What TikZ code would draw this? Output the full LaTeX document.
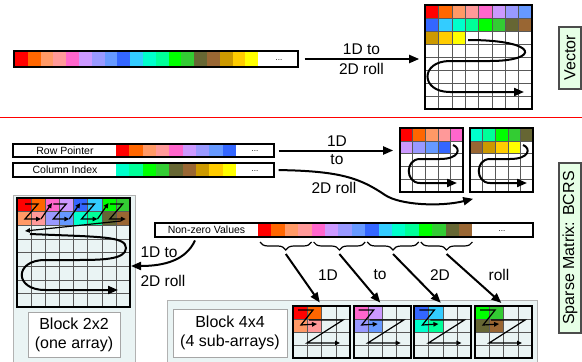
\documentclass[tikz,border=0pt]{standalone}
\usepackage{fontspec}
\setmainfont{Liberation Sans}
\usetikzlibrary{arrows.meta, decorations.pathreplacing, positioning}

\definecolor{c1}{HTML}{FF0000}
\definecolor{c2}{HTML}{FF6600}
\definecolor{c3}{HTML}{FF9966}
\definecolor{c4}{HTML}{FF9999}
\definecolor{c5}{HTML}{FF66CC}
\definecolor{c6}{HTML}{CC99FF}
\definecolor{c7}{HTML}{9999FF}
\definecolor{c8}{HTML}{6699FF}
\definecolor{c9}{HTML}{3366FF}
\definecolor{c10}{HTML}{33CCFF}
\definecolor{c11}{HTML}{00FFCC}
\definecolor{c12}{HTML}{00FF99}
\definecolor{c13}{HTML}{00FF00}
\definecolor{c14}{HTML}{33CC33}
\definecolor{c15}{HTML}{666633}
\definecolor{c16}{HTML}{996633}
\definecolor{c17}{HTML}{CC9900}
\definecolor{c18}{HTML}{FFCC00}
\definecolor{c19}{HTML}{FFFF00}
\definecolor{panelfill}{HTML}{EAF4F4}
\definecolor{tagfill}{HTML}{E6FFE6}

\newcommand\captionfont{\fontsize{16}{19}\selectfont}
\newcommand\rollfont{\fontsize{15.5}{18}\selectfont}
\newcommand\stripfont{\fontsize{10.5}{12}\selectfont}
\newcommand\dotsfont{\fontsize{8}{9}\selectfont}

% inner lines of a cell grid: x0, y0, cols, rows, cell width, cell height
\newcommand\gridlines[6]{%
  \foreach \gi in {1,...,#3}
    \draw[gridline] ({#1+#5*\gi},#2) -- ++(0,{#4*#6});
  \foreach \gi in {1,...,#4}
    \draw[gridline] (#1,{#2+#6*\gi}) -- ++({#3*#5},0);
}

\begin{document}
\begin{tikzpicture}[x=1pt, y=-1pt,%
  arr/.style={line width=2pt, -{Triangle[length=10pt, width=8pt]}},
  zarr/.style={line width=1.2pt, -{Triangle[length=5pt, width=4.5pt]}},
  gridline/.style={draw=gray!70!black, line width=0.5pt},
  frame/.style={draw, line width=1.6pt, inner sep=0pt},
  strip/.style={draw, line width=1.4pt, inner sep=0pt},
  tag/.style={draw=gray!60!black, line width=1.2pt, fill=tagfill, inner sep=0pt,
    minimum height=22pt, font=\captionfont},
  panel/.style={draw=gray!60, fill=panelfill, line width=0.8pt},
  caption/.style={draw=gray!70, fill=white, line width=0.8pt, align=center,
    inner sep=0pt, font=\captionfont},
  roll/.style={font=\rollfont},
  brace/.style={decorate, decoration={brace, mirror, amplitude=8pt}, line width=1.2pt}]
  \useasboundingbox (0,0) rectangle (582,362);

  % vector
  \foreach \i in {1,...,19}
    \fill[c\i] ({15+12.8*(\i-1)},51) rectangle ++(12.8,16);
  \node[strip, minimum width=284pt, minimum height=16pt] (vec) at (156,59) {};
  \node[font=\dotsfont] (vecdots) at (279,60) {...};

  \foreach \i in {1,...,19} {
    \pgfmathtruncatemacro\col{mod(\i-1,8)}
    \pgfmathtruncatemacro\row{(\i-1)/8}
    \fill[c\i] ({425+13.375*\col},{5+13*\row}) rectangle ++(13.375,13);
  }
  \gridlines{425}{5}{8}{8}{13.375}{13}
  \node[frame, minimum width=107pt, minimum height=104pt] (vgrid) at (478.5,57) {};
  \draw[arr] (468,40) .. controls (540,40) and (540,61) .. (490,61) -- (450,61)
    .. controls (420,61) and (420,92) .. (450,92) -- (524,92);
  \draw[arr, shorten <=6pt, shorten >=5pt] (vec.east) -- (vec.east -| vgrid.west)
    node[midway, above, roll] (rolla) {1D to}
    node[midway, below, roll] (rollb) {2D roll};

  \node[tag, rotate=90, minimum width=62pt] (vtag) at (570,58) {Vector};
  \draw[red, line width=0.8pt] (0,117) -- (582,117);

  % BCRS: row pointer and column index
  \foreach \i in {1,...,9}
    \fill[c\i] ({116+13.33*(\i-1)},144) rectangle ++(13.33,13);
  \node[strip, minimum width=261pt, minimum height=13pt] (rp) at (143.5,150.5) {};
  \node[font=\stripfont] (rplbl) at (65,150.5) {Row Pointer};
  \node[font=\dotsfont] (rpdots) at (255,151) {...};
  \foreach \i in {11,...,19}
    \fill[c\i] ({116+13.33*(\i-11)},163) rectangle ++(13.33,14);
  \node[strip, minimum width=261pt, minimum height=14pt] (ci) at (143.5,170) {};
  \node[font=\stripfont] (cilbl) at (65,170) {Column Index};
  \node[font=\dotsfont] (cidots) at (255,171) {...};

  \foreach \gx/\f/\nm in {400/1/rpgrid, 470/11/cigrid} {
    \foreach \i in {0,...,8} {
      \pgfmathtruncatemacro\n{\f+\i}
      \pgfmathtruncatemacro\col{mod(\i,5)}
      \pgfmathtruncatemacro\row{\i/5}
      \fill[c\n] ({\gx+12.6*\col},{128+12.8*\row}) rectangle ++(12.6,12.8);
    }
    \gridlines{\gx}{128}{5}{5}{12.6}{12.8}
    \node[frame, minimum width=63pt, minimum height=64pt] (\nm) at ({\gx+31.5},160) {};
    \draw[arr] ({\gx+53},145) .. controls ({\gx+61},148) and ({\gx+60},159) .. ({\gx+40},159)
      -- ({\gx+20},159) .. controls ({\gx+5},159) and ({\gx+5},183) .. ({\gx+20},183)
      -- ({\gx+57},183);
  }
  \draw[arr, shorten <=4pt, shorten >=6pt] (rp.east) -- (rp.east -| rpgrid.west)
    node[midway, above, roll] (rollc) {1D}
    node[midway, below, roll] (rolld) {to};
  \node[roll] (rolle) at (334,188) {2D roll};
  \draw[arr, shorten <=4pt] (ci.east) .. controls (340,171) and (360,178) .. (385,195)
    .. controls (400,205) and (440,207) .. ([xshift=4pt, yshift=-6pt]cigrid.south west);

  \node[tag, rotate=90, minimum width=170pt] (stag) at (570,248) {Sparse Matrix: BCRS};

  % block 2x2, one array
  \draw[panel] (13,195) rectangle (135,372);
  \foreach \k in {0,...,3} {
    \foreach \j/\dx/\dy in {1/0/0, 2/1/0, 3/0/1, 4/1/1} {
      \pgfmathtruncatemacro\n{4*\k+\j}
      \fill[c\n] ({17+14.125*(2*\k+\dx)},{198+13.625*\dy}) rectangle ++(14.125,13.625);
    }
  }
  \gridlines{17}{198}{8}{8}{14.125}{13.625}
  \node[frame, line width=2pt, minimum width=113pt, minimum height=109pt] (bgrid) at (73.5,252.5) {};
  \foreach \k in {0,...,3}
    \draw[zarr] ({25+28.25*\k},204) -- ({38+28.25*\k},204) -- ({25+28.25*\k},219) -- ({41+28.25*\k},219);
  \foreach \k in {0,...,2}
    \draw[zarr] ({41+28.25*\k},219) -- ({52+28.25*\k},203);
  \draw[zarr] (121,221) -- (25,231);
  \draw[arr] (30,234) .. controls (100,237) and (126,236) .. (126,248)
    .. controls (126,260) and (100,260) .. (75,260) -- (45,260)
    .. controls (14,260) and (14,290) .. (45,290) -- (118,290);
  \node[caption, minimum width=92pt, minimum height=45pt] (bcap) at (74,334.5) {Block 2x2\\(one array)};

  % non-zero values
  \foreach \i in {1,...,16}
    \fill[c\i] ({258+13.4*(\i-1)},223) rectangle ++(13.4,14);
  \node[strip, minimum width=378pt, minimum height=14pt] (nz) at (344,230) {};
  \node[font=\stripfont] (nzlbl) at (206.5,230) {Non-zero Values};
  \node[font=\dotsfont] (nzdots) at (502,231) {...};
  \draw[arr, shorten <=3pt] ([xshift=42pt]nz.south west) .. controls (186,260) and (165,266)
    .. ([yshift=-13.5pt]bgrid.east);
  \node[roll, anchor=west] (rollf) at (137,252) {1D to};
  \node[roll, anchor=west] (rollg) at (137,281) {2D roll};

  % block 4x4, four sub-arrays
  \draw[panel] (167,300) rectangle (537,372);
  \node[caption, minimum width=114pt, minimum height=48pt] (b4cap) at (230,333) {Block 4x4\\(4 sub-arrays)};
  \foreach \k in {0,...,3} {
    \pgfmathsetmacro\gx{293+60.7*\k}
    \foreach \j/\dx/\dy in {1/0/0, 2/1/0, 3/0/1, 4/1/1} {
      \pgfmathtruncatemacro\n{4*\k+\j}
      \fill[c\n] ({\gx+14.25*\dx},{306+13*\dy}) rectangle ++(14.25,13);
    }
    \gridlines{\gx}{306}{4}{4}{14.25}{13}
    \node[frame, line width=2pt, minimum width=57pt, minimum height=52pt] (sg\k) at ({\gx+28.5},332) {};
    \draw[zarr] ({\gx+5},310) -- ({\gx+20},310) -- ({\gx+8},325) -- ({\gx+24},324);
    \draw[zarr] ({\gx+16},320) -- ({\gx+50},320) -- ({\gx+14},343) -- ({\gx+47},343);
    \draw[brace] ({260+53.6*\k},242) -- ({258+53.6*(\k+1)},242);
    \coordinate (bt\k) at ({259+53.6*(\k+0.5)},254);
    \draw[arr, shorten >=3pt] (bt\k) -- (sg\k.north);
  }
  \foreach \t/\lx [count=\k] in {1D/328, to/380, 2D/440, roll/499}
    \node[roll] (rl\k) at (\lx,275) {\t};
\end{tikzpicture}
\end{document}
